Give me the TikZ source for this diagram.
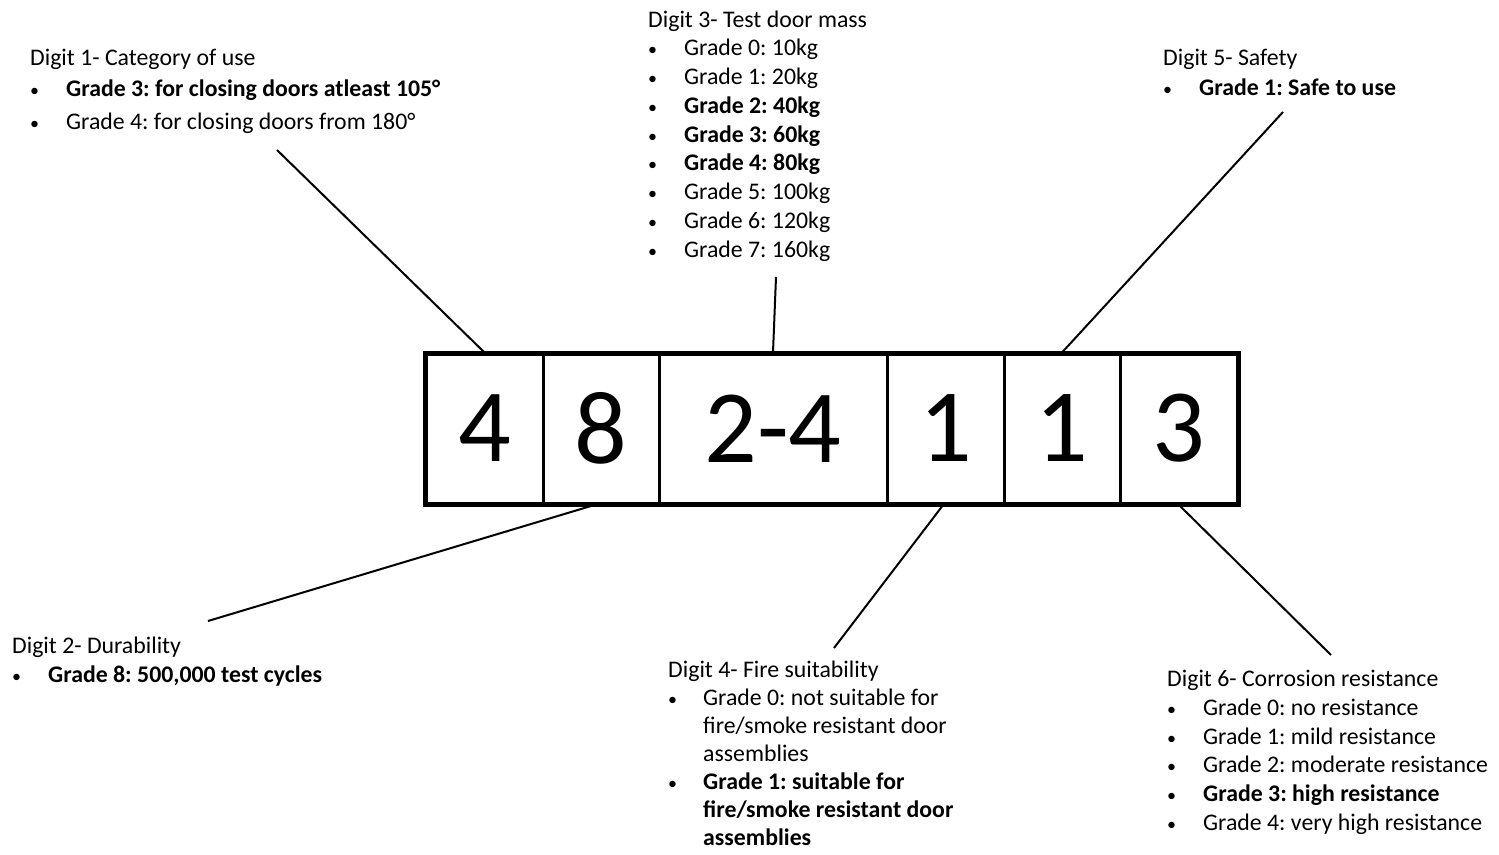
\documentclass[tikz,border=0pt]{standalone}
\usepackage{fontspec}
\setmainfont{Carlito}
\frenchspacing
\begin{document}
\begin{tikzpicture}[x=1pt,y=-1pt,
 txt/.style={anchor=mid west, inner sep=0pt, font=\fontsize{23.8}{28}\selectfont},
 bul/.style={anchor=mid west, inner sep=0pt, font=\fontsize{18}{20}\selectfont},
 cell/.style={draw, line width=3pt, minimum height=149pt, inner sep=0pt, font=\fontsize{104}{104}\selectfont},
 lead/.style={line width=2pt}]
\useasboundingbox (0,0) rectangle (1499,854);
% cells
\node[cell, minimum width=117pt] (c1) at (484.5,428.5) {4};
\node[cell, minimum width=116pt] (c2) at (601,428.5) {8};
\node[cell, minimum width=228pt] (c3) at (773,428.5) {2-4};
\node[cell, minimum width=117pt] (c4) at (945.5,428.5) {1};
\node[cell, minimum width=116pt] (c5) at (1062,428.5) {1};
\node[cell, minimum width=117pt] (c6) at (1178.5,428.5) {3};
\draw[line width=4pt] (c1.north west) rectangle (c6.south east);
% Digit 1
\node[txt] (t1) at (30,63) {Digit 1- Category of use};
\node[bul] (b1a) at (30,94) {•};
\node[txt] (i1a) at (66,94) {\bfseries Grade 3: for closing doors atleast 105°};
\node[bul] (b1b) at (30,127) {•};
\node[txt] (i1b) at (66,127) {Grade 4: for closing doors from 180°};
% Digit 3
\node[txt] (t3) at (648,25) {Digit 3- Test door mass};
\foreach \i/\s in {0/{Grade 0: 10kg},1/{Grade 1: 20kg},2/{\bfseries Grade 2: 40kg},3/{\bfseries Grade 3: 60kg},4/{\bfseries Grade 4: 80kg},5/{Grade 5: 100kg},6/{Grade 6: 120kg},7/{Grade 7: 160kg}}{
  \node[bul] (b3\i) at (648,53+28.9*\i) {•};
  \node[txt] (i3\i) at (684,53+28.9*\i) {\s};
}
% Digit 5
\node[txt] (t5) at (1163,63) {Digit 5- Safety};
\node[bul] (b5) at (1163,93) {•};
\node[txt] (i5) at (1199,93) {\bfseries Grade 1: Safe to use};
% Digit 2
\node[txt] (t2) at (12,651) {Digit 2- Durability};
\node[bul] (b2) at (12,680) {•};
\node[txt] (i2) at (48,680) {\bfseries Grade 8: 500,000 test cycles};
% Digit 4
\node[txt] (t4) at (668,675) {Digit 4- Fire suitability};
\node[bul] (b4a) at (668,703) {•};
\node[txt] (i4a) at (703,703) {Grade 0: not suitable for};
\node[txt] (i4b) at (703,731) {fire/smoke resistant door};
\node[txt] (i4c) at (703,759) {assemblies};
\node[bul] (b4b) at (668,787) {•};
\node[txt] (i4d) at (703,787) {\bfseries Grade 1: suitable for};
\node[txt] (i4e) at (703,815) {\bfseries fire/smoke resistant door};
\node[txt] (i4f) at (703,843) {\bfseries assemblies};
% Digit 6
\node[txt] (t6) at (1167,684) {Digit 6- Corrosion resistance};
\foreach \i/\s in {0/{Grade 0: no resistance},1/{Grade 1: mild resistance},2/{Grade 2: moderate resistance},3/{\bfseries Grade 3: high resistance},4/{Grade 4: very high resistance}}{
  \node[bul] (b6\i) at (1167,713+28.8*\i) {•};
  \node[txt] (i6\i) at (1203,713+28.8*\i) {\s};
}
% leader end points
\coordinate (e1) at (277,150);
\coordinate (e3) at (776,277);
\coordinate (e5) at (1283,112);
\coordinate (e2) at (208,621);
\coordinate (e4) at (834,648);
\coordinate (e6) at (1331,655);
\draw[lead] (e1) -- (c1.north);
\draw[lead] (e3) -- (c3.north);
\draw[lead] (e5) -- (c5.north);
\draw[lead] (e2) -- ([xshift=-5pt]c2.south);
\draw[lead] (e4) -- ([xshift=-2pt]c4.south);
\draw[lead] (e6) -- (c6.south);
\end{tikzpicture}
\end{document}
